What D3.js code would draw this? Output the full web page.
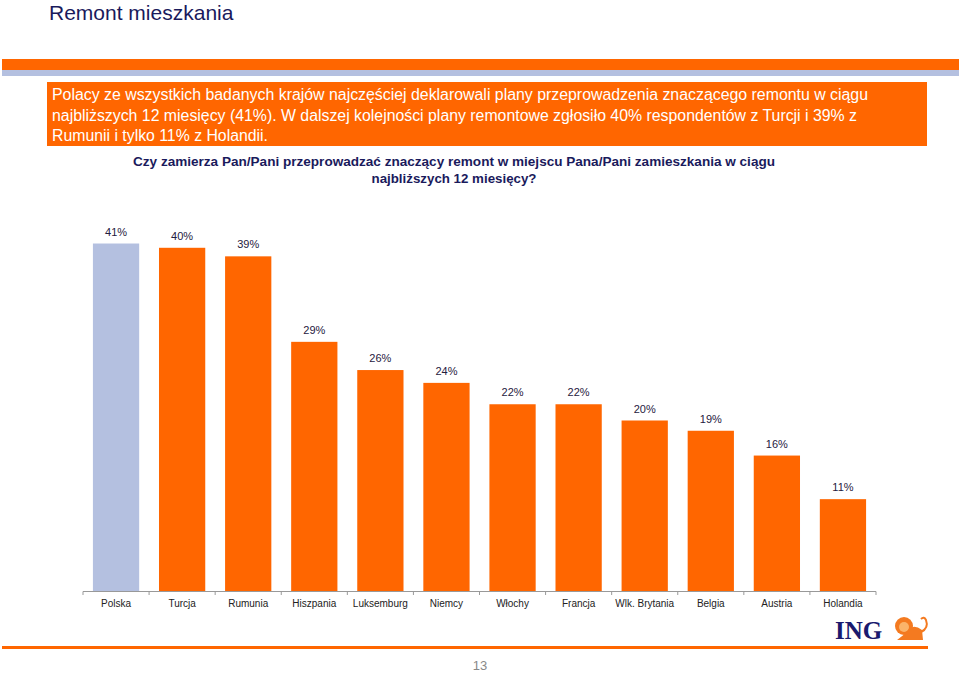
<!DOCTYPE html>
<html><head><meta charset="utf-8">
<script src="https://cdn.jsdelivr.net/npm/d3@7"></script>
<style>body{margin:0;background:#fff}svg{display:block}</style>
</head><body>
<script>
const categories = ["Polska","Turcja","Rumunia","Hiszpania","Luksemburg","Niemcy","Włochy","Francja","Wlk. Brytania","Belgia","Austria","Holandia"];
const values = [40.7,40.2,39.2,29.2,25.9,24.4,21.9,21.9,20.0,18.8,15.9,10.8];
const labels = ["41%","40%","39%","29%","26%","24%","22%","22%","20%","19%","16%","11%"];
const title = "Remont mieszkania";
const boxLines = [
 "Polacy ze wszystkich badanych krajów najczęściej deklarowali plany przeprowadzenia znaczącego remontu w ciągu",
 "najbliższych 12 miesięcy (41%). W dalszej kolejności plany remontowe zgłosiło 40% respondentów z Turcji i 39% z",
 "Rumunii i tylko 11% z Holandii."
];
const subtitleLines = ["Czy zamierza Pan/Pani przeprowadzać znaczący remont w miejscu Pana/Pani zamieszkania w ciągu","najbliższych 12 miesięcy?"];

const W=960,H=673;
const svg=d3.select("body").append("svg").attr("width",W).attr("height",H);
const font="'Liberation Sans', Arial, sans-serif";
const orange="#FF6600", navy="#1a1a5c";

svg.append("text").attr("x",49).attr("y",20).attr("font-family",font).attr("font-size",21)
  .attr("fill",navy).text(title);

svg.append("rect").attr("x",2).attr("y",59).attr("width",957).attr("height",11).attr("fill",orange);
svg.append("rect").attr("x",2).attr("y",70).attr("width",957).attr("height",6).attr("fill","#b4c0e0");

svg.append("rect").attr("x",47).attr("y",82).attr("width",880).attr("height",64).attr("fill",orange);
const boxW=[816,805,216];
svg.selectAll(".bl").data(boxLines).join("text").attr("class","bl")
  .attr("x",52).attr("y",(d,i)=>100+i*20.5).attr("font-family",font).attr("font-size",16)
  .attr("fill","#fff").attr("textLength",(d,i)=>boxW[i]).attr("lengthAdjust","spacingAndGlyphs").text(d=>d);

svg.selectAll(".st").data(subtitleLines).join("text").attr("class","st")
  .attr("x",454).attr("y",(d,i)=>166+i*17).attr("text-anchor","middle").attr("font-family",font)
  .attr("font-size",13).attr("font-weight","bold").attr("fill",navy)
  .attr("textLength",(d,i)=>i==0?642:165).attr("lengthAdjust","spacingAndGlyphs").text(d=>d);

const x=d3.scaleBand().domain(categories).range([83,876]).paddingInner(0.3).paddingOuter(0.15);
const y=d3.scaleLinear().domain([0,50]).range([591.5,164]);

svg.selectAll(".bar").data(values).join("rect").attr("class","bar")
  .attr("x",(d,i)=>x(categories[i])).attr("width",x.bandwidth())
  .attr("y",d=>y(d)).attr("height",d=>y(0)-y(d))
  .attr("fill",(d,i)=>i===0?"#b4c0e0":orange);

svg.selectAll(".vl").data(values).join("text").attr("class","vl")
  .attr("x",(d,i)=>x(categories[i])+x.bandwidth()/2).attr("y",d=>y(d)-8)
  .attr("text-anchor","middle").attr("font-family",font).attr("font-size",11).attr("fill","#1f2040")
  .text((d,i)=>labels[i]);

// axis
const ax=svg.append("g");
ax.append("line").attr("x1",83).attr("x2",876).attr("y1",591.5).attr("y2",591.5).attr("stroke","#999").attr("stroke-width",1);
const bounds=categories.map(c=>x(c)-(x.step()-x.bandwidth())/2);
bounds.push(876);
ax.selectAll(".tk").data(bounds).join("line").attr("class","tk")
  .attr("x1",d=>d).attr("x2",d=>d).attr("y1",591.5).attr("y2",595).attr("stroke","#999");
ax.selectAll(".cl").data(categories).join("text").attr("class","cl")
  .attr("x",c=>x(c)+x.bandwidth()/2).attr("y",607).attr("text-anchor","middle")
  .attr("font-family",font).attr("font-size",10).attr("fill","#222").text(c=>c);

// bottom
svg.append("rect").attr("x",2).attr("y",646).attr("width",926).attr("height",3).attr("fill",orange);
svg.append("text").attr("x",480).attr("y",670).attr("text-anchor","middle").attr("font-family",font)
  .attr("font-size",13).attr("fill","#888").text("13");

// ING logo
svg.append("text").attr("x",835).attr("y",639).attr("font-family","'Liberation Serif', 'DejaVu Serif', serif")
  .attr("font-weight","bold").attr("font-size",25).attr("fill","#1a1a6e").text("ING");
const lion=svg.append("g").attr("fill","#f47a20");
lion.append("circle").attr("cx",904).attr("cy",626).attr("r",9);
lion.append("circle").attr("cx",904).attr("cy",627).attr("r",5).attr("fill","#fbb46a");
lion.append("path").attr("d","M906 633 Q912 622 922 630 L923 640 L897 640 Z");
lion.append("path").attr("d","M921 632 Q929 628 926 620 Q924 616 921 619").attr("fill","none").attr("stroke","#f47a20").attr("stroke-width",2);
</script>
</body></html>
